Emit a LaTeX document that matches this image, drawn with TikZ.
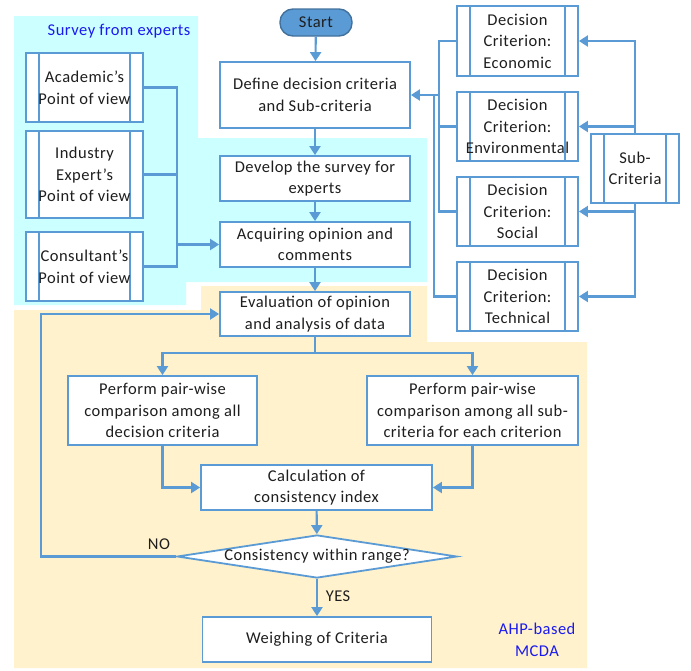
\documentclass[tikz,border=0pt]{standalone}
\usepackage{fontspec}
\setmainfont[LetterSpace=3]{Carlito}
\usetikzlibrary{arrows.meta,shapes.geometric}
\definecolor{boxblue}{HTML}{5B9BD5}
\definecolor{startedge}{HTML}{41719C}
\definecolor{surveybg}{HTML}{CCFFFF}
\definecolor{ahpbg}{HTML}{FFF2CC}
\definecolor{tagblue}{HTML}{1A1AF0}
\definecolor{ink}{HTML}{1E1E1E}

\begin{document}
\begin{tikzpicture}[x=1pt,y=-1pt,
    font=\fontsize{16.5}{21.5}\selectfont,
    box/.style={draw=boxblue,line width=1.8pt,fill=white,text=ink,align=center,inner sep=0pt},
    proc/.style={box,path picture={
        \draw[boxblue,line width=1.6pt] ([xshift=13pt]path picture bounding box.north west) -- ([xshift=13pt]path picture bounding box.south west);
        \draw[boxblue,line width=1.6pt] ([xshift=-13pt]path picture bounding box.north east) -- ([xshift=-13pt]path picture bounding box.south east);}},
    link/.style={draw=boxblue,line width=2.1pt},
    arr/.style={link,-{Triangle[length=9pt,width=11pt]}}]
  \useasboundingbox (0,0) rectangle (691,670);
  % background regions
  \fill[surveybg] (14,16) -- (198,16) -- (198,138) -- (427,138) -- (427,282) -- (186,282) -- (186,305) -- (14,305) -- cycle;
  \fill[ahpbg] (201,286) -- (427,286) -- (427,342) -- (587,342) -- (587,668) -- (14,668) -- (14,310) -- (201,310) -- cycle;
  \node[text=tagblue] (survey) at (119,31) {Survey from experts};
  \node[text=tagblue,align=center] (ahp) at (537,640) {AHP-based\\MCDA};

  % main column
  \node[draw=startedge,line width=1.4pt,fill=boxblue,rounded corners=13pt,minimum width=72pt,minimum height=27pt,inner sep=0pt,text=ink] (start) at (316,22.5) {Start};
  \node[box,minimum width=190pt,minimum height=66pt] (define) at (315,95) {Define decision criteria\\and Sub-criteria};
  \node[box,minimum width=190pt,minimum height=45pt] (develop) at (315,178.5) {Develop the survey for\\experts};
  \node[box,minimum width=190pt,minimum height=45pt] (acquire) at (315,244.5) {Acquiring opinion and\\comments};
  \node[box,minimum width=190pt,minimum height=44pt] (evaluate) at (315,314) {Evaluation of opinion\\and analysis of data};
  \node[box,minimum width=189pt,minimum height=69pt] (pairL) at (162.5,410.5) {Perform pair-wise\\comparison among all\\decision criteria};
  \node[box,minimum width=211pt,minimum height=69pt] (pairR) at (472.5,410.5) {Perform pair-wise\\comparison among all sub-\\criteria for each criterion};
  \node[box,minimum width=231pt,minimum height=45pt] (calc) at (316.5,487.5) {Calculation of\\consistency index};
  \node[box,diamond,aspect=6.5,inner sep=-3pt,minimum width=280pt,minimum height=43pt] (check) at (317,556.5) {Consistency within range?};
  \node[box,minimum width=229pt,minimum height=45pt] (weigh) at (317,639.5) {Weighing of Criteria};

  % experts
  \node[proc,minimum width=117pt,minimum height=69pt] (acad) at (84.5,87.5) {Academic’s\\Point of view};
  \node[proc,minimum width=117pt,minimum height=87pt] (indus) at (84.5,174.5) {Industry\\Expert’s\\Point of view};
  \node[proc,minimum width=117pt,minimum height=69pt] (consult) at (84.5,266.5) {Consultant’s\\Point of view};

  % criteria
  \node[proc,minimum width=121pt,minimum height=70pt] (econ) at (517.5,41) {Decision\\Criterion:\\Economic};
  \node[proc,minimum width=121pt,minimum height=69pt] (env) at (517.5,126.5) {Decision\\Criterion:\\Environmental};
  \node[proc,minimum width=121pt,minimum height=69pt] (soc) at (517.5,211.5) {Decision\\Criterion:\\Social};
  \node[proc,minimum width=121pt,minimum height=69pt] (tech) at (517.5,296.5) {Decision\\Criterion:\\Technical};
  \node[proc,minimum width=88pt,minimum height=69pt] (sub) at (635,168.5) {Sub-\\Criteria};

  \coordinate (cbus) at (439,95);
  \coordinate (tbus) at (434,95);
  \coordinate (ebus) at (177,244.5);
  \coordinate (split) at (315,353);
  \coordinate (nox) at (41,450);

  % connectors
  \draw[arr] (start) -- (define);
  \draw[arr] (define) -- (develop);
  \draw[arr] (develop) -- (acquire);
  \draw[arr] (acquire) -- (evaluate);
  \draw[link] (econ.west) -| (cbus);
  \draw[link] (soc.west) -| (cbus);
  \draw[link] (env.west) -- (env.west -| cbus);
  \draw[link] (tech.west) -| (tbus);
  \draw[arr] (cbus) -- (define.east);
  \draw[arr] (sub.north) |- (econ.east);
  \draw[arr] (sub.north |- env.east) -- (env.east);
  \draw[arr] (sub.south) |- (tech.east);
  \draw[arr] (sub.south |- soc.east) -- (soc.east);
  \draw[link] (acad.east) -| (ebus);
  \draw[link] (consult.east) -| (ebus);
  \draw[link] (indus.east) -- (indus.east -| ebus);
  \draw[arr] (ebus) -- (acquire.west);
  \draw[arr] (evaluate.south) -- (split) -| (pairL.north);
  \draw[arr] (split) -| (pairR.north);
  \draw[arr] (pairL.south) |- (calc.west);
  \draw[arr] (pairR.south) |- (calc.east);
  \draw[arr] (calc) -- (check);
  \draw[arr] (check) -- (weigh);
  \draw[arr] (check.west) -| (nox) |- (evaluate.west);
  \node[text=ink] (no) at (159,544) {NO};
  \node[text=ink] (yes) at (338,596) {YES};
\end{tikzpicture}
\end{document}
